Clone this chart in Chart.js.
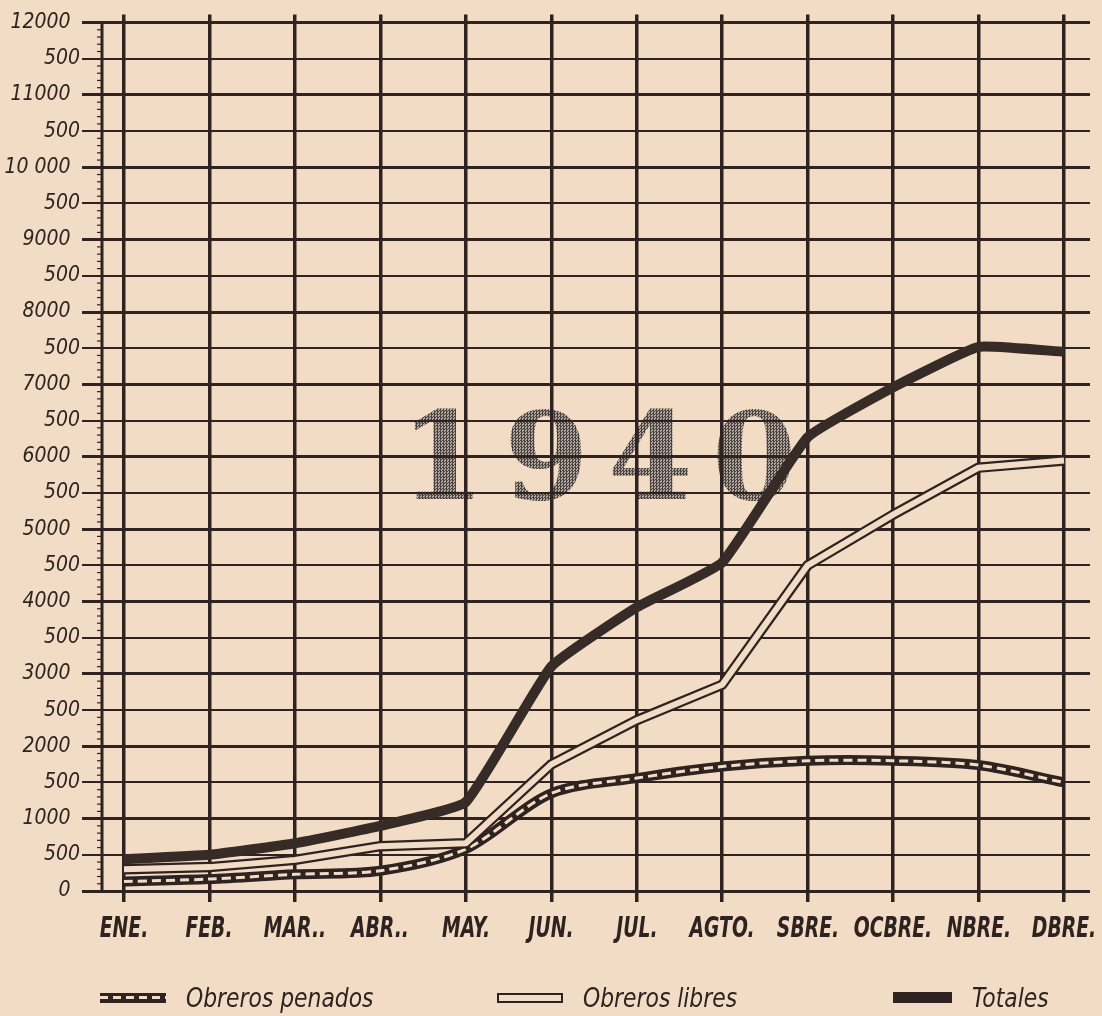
<!DOCTYPE html>
<html lang="es">
<head>
<meta charset="utf-8">
<title>Obreros 1940</title>
<script src="https://cdn.jsdelivr.net/npm/chart.js@4.4.1/dist/chart.umd.min.js"></script>
<style>
    html, body { margin: 0; padding: 0; background: #f2dcc5; }
    #wrap { position: relative; width: 1102px; height: 1016px; overflow: hidden; }
    #year {
        position: absolute; left: 400px; top: 396px;
        font: bold 122px 'DejaVu Serif', serif; line-height: 120px; letter-spacing: 19px;
        color: transparent;
        background: repeating-conic-gradient(#4a423e 0 25%, #b3a89f 0 50%) 0 0 / 3px 3px;
        -webkit-background-clip: text; background-clip: text;
    }
    #chart { position: absolute; left: 0; top: 0; }
    .xlabel {
        position: absolute; top: 910px; line-height: 30px; white-space: nowrap;
        font: italic bold 29px 'DejaVu Sans Condensed', sans-serif; color: #2e2320;
        transform: translateX(-50%) scaleX(0.72);
    }
    .legend-item {
        position: absolute; top: 982px; display: flex; align-items: center; gap: 20px;
        font: italic 27px 'DejaVu Sans Condensed', sans-serif;
        color: #2e2320; white-space: nowrap;
    }
    .legend-item span { display: inline-block; transform: scaleX(0.9); transform-origin: left center; }
    .legend-item:nth-child(1) { left: 100px; }
    .legend-item:nth-child(2) { left: 497px; }
    .legend-item:nth-child(3) { left: 893px; }
    .swatch { width: 66px; height: 10px; box-sizing: border-box; flex: none; }
    .swatch.penados {
        background: repeating-linear-gradient(90deg, #f2dcc5 0 8px, transparent 8px 13px) center / 100% 3px no-repeat, #2e2320;
    }
    .swatch.libres { border: 2px solid #2e2320; background: #f2dcc5; }
    .swatch.totales { width: 59px; height: 11px; background: #2e2320; }
</style>
</head>
<body>
<div id="wrap">
    <div id="year">1940</div>
    <canvas id="chart" width="1102" height="950"></canvas>
    <div id="xlabels"></div>
    <div id="legend"></div>
</div>
<script>
// Monthly series
const months = ['ENE.', 'FEB.', 'MAR..', 'ABR..', 'MAY.', 'JUN.', 'JUL.', 'AGTO.', 'SBRE.', 'OCBRE.', 'NBRE.', 'DBRE.'];
const penados = [130, 165, 230, 280, 580, 1350, 1560, 1720, 1800, 1800, 1740, 1500];
const libres = [300, 330, 430, 620, 660, 1750, 2360, 2850, 4500, 5200, 5850, 5950];
const totales = [440, 500, 660, 900, 1230, 3100, 3920, 4540, 6270, 6960, 7520, 7450];

// Y axis
const yTickValues = [0, 500, 1000, 1500, 2000, 2500, 3000, 3500, 4000, 4500, 5000, 5500, 6000,
    6500, 7000, 7500, 8000, 8500, 9000, 9500, 10000, 10500, 11000, 11500, 12000];
const yTickLabels = ['0', '500', '1000', '500', '2000', '500', '3000', '500', '4000', '500', '5000', '500', '6000',
    '500', '7000', '500', '8000', '500', '9000', '500', '10 000', '500', '11000', '500', '12000'];

const seriesNames = ['Obreros penados', 'Obreros libres', 'Totales'];
const swatchClasses = ['penados', 'libres', 'totales'];

const ink = '#2e2320';
const paper = '#f2dcc5';

const points = arr => arr.map((v, i) => ({ x: i, y: v }));
const isMajor = v => v % 1000 === 0;

// Ruled scale along the left edge, one notch every 100
const ruler = {
    id: 'ruler',
    beforeDatasetsDraw(chart) {
        const { ctx, chartArea, scales: { y } } = chart;
        const x = chartArea.left;
        const top = y.getPixelForValue(yTickValues[yTickValues.length - 1]);
        const bottom = y.getPixelForValue(0);
        ctx.save();
        ctx.strokeStyle = ink;
        ctx.lineWidth = 3;
        ctx.beginPath();
        ctx.moveTo(x, top);
        ctx.lineTo(x, bottom);
        ctx.stroke();
        ctx.lineWidth = 1.2;
        for (let v = 0; v <= 12000; v += 100) {
            const py = y.getPixelForValue(v);
            ctx.beginPath();
            ctx.moveTo(x - 5, py);
            ctx.lineTo(x + 1, py);
            ctx.stroke();
        }
        ctx.restore();
    }
};

const chart = new Chart(document.getElementById('chart').getContext('2d'), {
    type: 'line',
    data: {
        datasets: [
            { label: seriesNames[2], data: points(totales), borderColor: '#372b27', borderWidth: 10, tension: 0.12, order: 0 },
            { label: seriesNames[1], data: points(libres), borderColor: paper, borderWidth: 6, tension: 0, order: 1 },
            { label: seriesNames[1], data: points(libres), borderColor: ink, borderWidth: 10.5, tension: 0, order: 2 },
            { label: seriesNames[0], data: points(penados), borderColor: paper, borderWidth: 3, borderDash: [9, 5], tension: 0.3, order: 3 },
            { label: seriesNames[0], data: points(penados), borderColor: ink, borderWidth: 10, tension: 0.3, order: 4 }
        ]
    },
    options: {
        responsive: false,
        animation: false,
        events: [],
        layout: { padding: { top: 13, right: 12, left: 0, bottom: 0 } },
        elements: {
            point: { radius: 0 },
            line: { borderJoinStyle: 'round', borderCapStyle: 'butt' }
        },
        plugins: {
            legend: { display: false },
            tooltip: { enabled: false }
        },
        scales: {
            x: {
                type: 'linear',
                min: -0.2574,
                max: 11.3043,
                afterBuildTicks: s => { s.ticks = months.map((m, i) => ({ value: i })); },
                afterFit: s => { s.height = 59; },
                ticks: { display: false },
                grid: { color: ink, lineWidth: 3.5, tickLength: 11, tickColor: ink, tickWidth: 3.5 },
                border: { display: false }
            },
            y: {
                min: 0,
                max: 12110,
                afterBuildTicks: s => { s.ticks = yTickValues.map(v => ({ value: v })); },
                afterFit: s => { s.width = 102; },
                ticks: {
                    // whole thousands sit a little further out than the half marks
                    callback: (v, i) => (isMajor(v) ? yTickLabels[i] + '\u2002' : yTickLabels[i]),
                    padding: 2,
                    color: ink,
                    font: { family: "'DejaVu Sans Condensed', sans-serif", size: 21, style: 'italic' }
                },
                grid: {
                    color: ink,
                    lineWidth: c => (c.tick && isMajor(c.tick.value) ? 3 : 2),
                    tickWidth: c => (c.tick && isMajor(c.tick.value) ? 3 : 2),
                    tickColor: ink,
                    tickLength: 20
                },
                border: { display: false }
            }
        }
    },
    plugins: [ruler]
});

// Month names under the vertical rules
const xLabels = document.getElementById('xlabels');
months.forEach((m, i) => {
    const el = document.createElement('span');
    el.className = 'xlabel';
    el.textContent = m;
    el.style.left = chart.scales.x.getPixelForValue(i) + 'px';
    xLabels.appendChild(el);
});

// Legend
const legend = document.getElementById('legend');
seriesNames.forEach((name, i) => {
    const item = document.createElement('div');
    item.className = 'legend-item';
    item.innerHTML = `<div class="swatch ${swatchClasses[i]}"></div><span>${name}</span>`;
    legend.appendChild(item);
});
</script>
</body>
</html>
